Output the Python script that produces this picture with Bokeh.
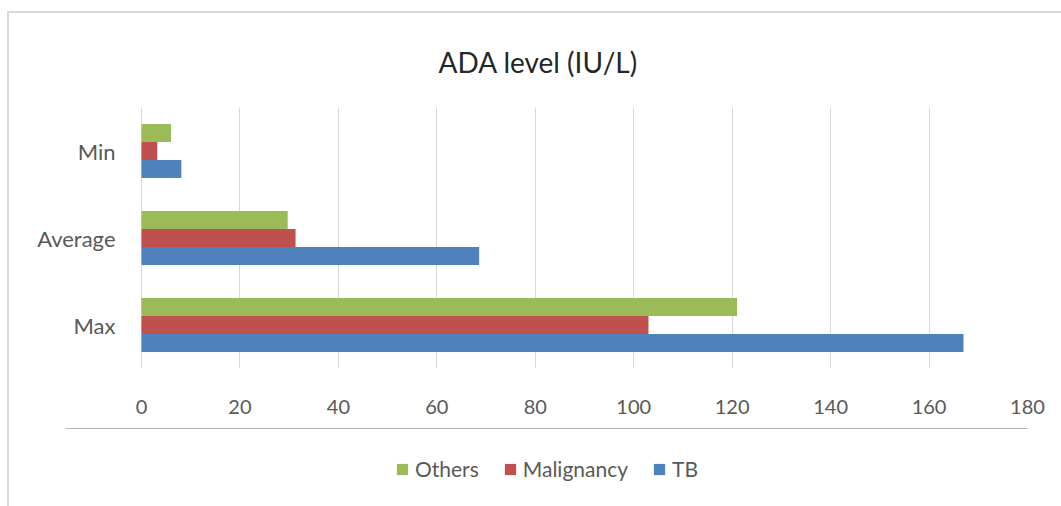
from bokeh.plotting import figure
from bokeh.layouts import column
from bokeh.models import ColumnDataSource, Legend, LegendItem, Title, FactorRange, Range1d
from bokeh.transform import dodge
from bokeh.embed import file_html
from bokeh.resources import INLINE

categories = ["Max", "Average", "Min"]
tb = [167, 68.6, 8.1]
malignancy = [103, 31.3, 3.2]
others = [121, 29.7, 6.0]
x_ticks = [0, 20, 40, 60, 80, 100, 120, 140, 160, 180]
series_names = ["Others", "Malignancy", "TB"]
series_colors = ["#9BBB59", "#C0504D", "#4F81BD"]

FONT = "Lato"
GRAY = "#595959"

src = ColumnDataSource(dict(cat=categories, tb=tb, mal=malignancy, oth=others))

p = figure(frame_width=962, frame_height=261, y_range=FactorRange(*categories), x_range=(-15.44, 180),
           output_backend="svg", toolbar_location=None,
           min_border_left=56, min_border_right=34, min_border_top=92, min_border_bottom=60)

bh = 0.207
p.hbar(y=dodge("cat", -bh, range=p.y_range), right="tb", left=0, height=bh,
       source=src, color=series_colors[2], line_color=None)
p.hbar(y=dodge("cat", 0, range=p.y_range), right="mal", left=0, height=bh,
       source=src, color=series_colors[1], line_color=None)
p.hbar(y=dodge("cat", bh, range=p.y_range), right="oth", left=0, height=bh,
       source=src, color=series_colors[0], line_color=None)

p.outline_line_color = None
p.ygrid.grid_line_color = None
p.xgrid.grid_line_color = "#d9d9d9"
p.xgrid.grid_line_width = 1
p.xaxis.ticker = x_ticks

for ax in (p.xaxis[0], p.yaxis[0]):
    ax.axis_line_color = None
    ax.major_tick_line_color = None
    ax.minor_tick_line_color = None
    ax.major_label_text_font = FONT
    ax.major_label_text_color = GRAY
p.xaxis.major_label_text_font_size = "20px"
p.yaxis.major_label_text_font_size = "22px"
p.xaxis.major_label_standoff = 25
p.yaxis.major_label_standoff = -56

title = Title(text="ADA level (IU/L)", align="left", text_font=FONT, text_font_size="28px",
              text_font_style="normal", text_color="#262626", standoff=58, offset=373)
p.add_layout(title, "above")

# legend strip as its own small figure below the chart
p2 = figure(width=1052, height=80, x_range=Range1d(0, 1), y_range=Range1d(0, 1),
            output_backend="svg", toolbar_location=None,
            x_axis_location=None, y_axis_location=None,
            min_border_left=0, min_border_right=0, min_border_top=0, min_border_bottom=0)
p2.outline_line_color = None
p2.grid.visible = False
items = []
for name, col in zip(series_names, series_colors):
    # swatch-only renderer: its single bar lies outside the visible range
    r = p2.hbar(y=[5], right=[1], left=0, height=0.2, color=col, line_color=None)
    items.append(LegendItem(label=name, renderers=[r]))

legend = Legend(items=items, orientation="horizontal", location=(330, 27),
                label_text_font=FONT, label_text_font_size="21px", label_text_color=GRAY,
                glyph_width=14, glyph_height=14, label_standoff=6, spacing=24,
                border_line_color=None, background_fill_alpha=0,
                margin=0, padding=0)
p2.add_layout(legend, "center")

layout = column(p, p2, spacing=0, margin=(11, 0, 0, 7),
                styles={"border-left": "2px solid #d9d9d9", "border-top": "2px solid #d9d9d9"})

open("out.html", "w").write(file_html(layout, INLINE))
